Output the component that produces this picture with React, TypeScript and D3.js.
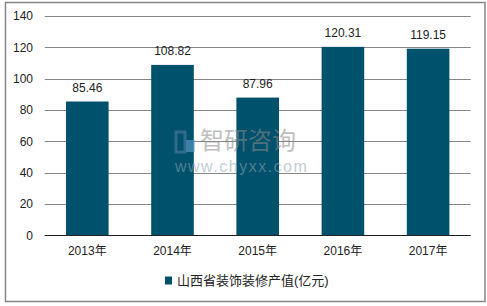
import React from "react";
import * as d3 from "d3";

const categories = ["2013年", "2014年", "2015年", "2016年", "2017年"];
const values = [85.46, 108.82, 87.96, 120.31, 119.15];
const yTicks = [0, 20, 40, 60, 80, 100, 120, 140];
const seriesName = "山西省装饰装修产值(亿元)";

const W = 487;
const H = 306;
const FONT = "'Liberation Sans', Arial, 'Noto Sans CJK SC', sans-serif";
const BAR = "#00516C";

export default function App() {
  const x = d3
    .scaleBand<string>()
    .domain(categories)
    .range([44.7, 470.7])
    .paddingInner(0.5)
    .paddingOuter(0.25);
  const y = d3.scaleLinear().domain([0, 140]).range([235.5, 16]);

  return (
    <svg
      width={W}
      height={H}
      style={{ position: "absolute", left: 0, top: 0, background: "#fff" }}
      fontFamily={FONT}
    >
      <rect x={5.5} y={2.5} width={479.5} height={299} fill="#fff" stroke="#868686" strokeWidth={1.5} />
      {yTicks.map((t) => (
        <g key={t}>
          {t !== 0 && (
            <line x1={44.7} x2={470.7} y1={Math.round(y(t)) + 0.5} y2={Math.round(y(t)) + 0.5} stroke="#868686" strokeWidth={1} />
          )}
          <text x={33} y={y(t)} dy="0.35em" textAnchor="end" fontSize={12} fill="#222">
            {t}
          </text>
        </g>
      ))}
      {categories.map((c, i) => (
        <g key={c}>
          <rect x={x(c)} y={y(values[i])} width={x.bandwidth()} height={y(0) - y(values[i])} fill={BAR} />
          <text
            x={(x(c) as number) + x.bandwidth() / 2}
            y={y(values[i]) - 10}
            textAnchor="middle"
            fontSize={12}
            fill="#222"
          >
            {values[i].toFixed(2)}
          </text>
          <text
            x={(x(c) as number) + x.bandwidth() / 2}
            y={254.5}
            textAnchor="middle"
            fontSize={12}
            fill="#222"
          >
            {c}
          </text>
        </g>
      ))}
      <line x1={44.7} x2={470.7} y1={235.5} y2={235.5} stroke="#222" strokeWidth={1} />
      {/* watermark */}
      <g opacity={0.55}>
        <rect x={176} y={132} width={9} height={20} fill="none" stroke="#5a7fa8" strokeWidth={3} />
        <rect x={186} y={140} width={9} height={12} fill="#6ea7d8" />
        <text x={200} y={149} fontSize={24} fill="#8a8a8a" fontFamily="'Noto Sans CJK SC', sans-serif">
          智研咨询
        </text>
        <text x={175} y={172} fontSize={16} fill="#8fa5b5" letterSpacing={1.5}>
          www.chyxx.com
        </text>
      </g>
      <rect x={165} y={276.5} width={7} height={8} fill={BAR} />
      <text x={177} y={280.5} dy="0.35em" fontSize={13} fill="#222">
        {seriesName}
      </text>
    </svg>
  );
}
